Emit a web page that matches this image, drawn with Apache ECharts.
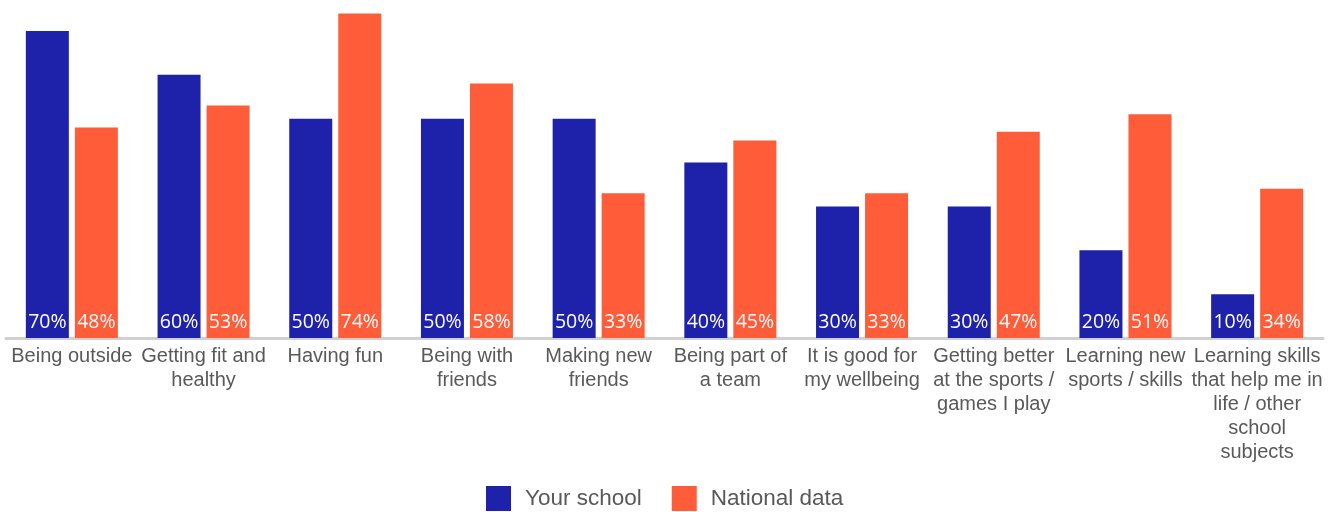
<!DOCTYPE html>
<html>
<head>
<meta charset="utf-8">
<script src="https://cdn.jsdelivr.net/npm/echarts@6/dist/echarts.min.js"></script>
<style>
  html, body { margin: 0; padding: 0; background: #ffffff; }
  #chart { width: 1337px; height: 512px; }
</style>
</head>
<body>
<div id="chart"></div>
<script>
// Reasons for taking part, shown as percentages per category
const categories = [
  'Being outside',
  'Getting fit and\nhealthy',
  'Having fun',
  'Being with\nfriends',
  'Making new\nfriends',
  'Being part of\na team',
  'It is good for\nmy wellbeing',
  'Getting better\nat the sports /\ngames I play',
  'Learning new\nsports / skills',
  'Learning skills\nthat help me in\nlife / other\nschool\nsubjects'
];
const yourSchool = [70, 60, 50, 50, 50, 40, 30, 30, 20, 10];
const nationalData = [48, 53, 74, 58, 33, 45, 33, 47, 51, 34];
const seriesNames = ['Your school', 'National data'];
const colors = ['#1e22aa', '#ff5c39'];

const chart = echarts.init(document.getElementById('chart'), null, { renderer: 'canvas' });

const labelStyle = {
  show: true,
  position: 'insideBottom',
  distance: 6,
  color: '#ffffff',
  fontFamily: 'Open Sans',
  fontSize: 19.5,
  formatter: p => p.value + '%'
};

chart.setOption({
  animation: false,
  color: colors,
  grid: { left: 6, right: 14, top: 9, bottom: 174, containLabel: false },
  legend: {
    top: 481,
    left: 481,
    itemWidth: 25,
    itemHeight: 25,
    itemGap: 30,
    icon: 'rect',
    textStyle: { fontFamily: 'Liberation Sans', fontSize: 22.5, color: '#595959', padding: [0, 0, 0, 9] },
    data: seriesNames
  },
  xAxis: {
    type: 'category',
    data: categories,
    axisTick: { show: false },
    axisLine: { lineStyle: { color: '#d0d0d0', width: 3 } },
    axisLabel: {
      interval: 0,
      margin: 6,
      fontFamily: 'Liberation Sans',
      fontSize: 20,
      lineHeight: 24,
      color: '#595959'
    }
  },
  yAxis: {
    type: 'value',
    min: 0,
    max: 75,
    show: false,
    splitLine: { show: false }
  },
  series: [
    {
      name: seriesNames[0],
      type: 'bar',
      data: yourSchool,
      barWidth: 43,
      barGap: '14%',
      label: labelStyle
    },
    {
      name: seriesNames[1],
      type: 'bar',
      data: nationalData,
      barWidth: 43,
      label: labelStyle
    }
  ]
});
</script>
</body>
</html>
